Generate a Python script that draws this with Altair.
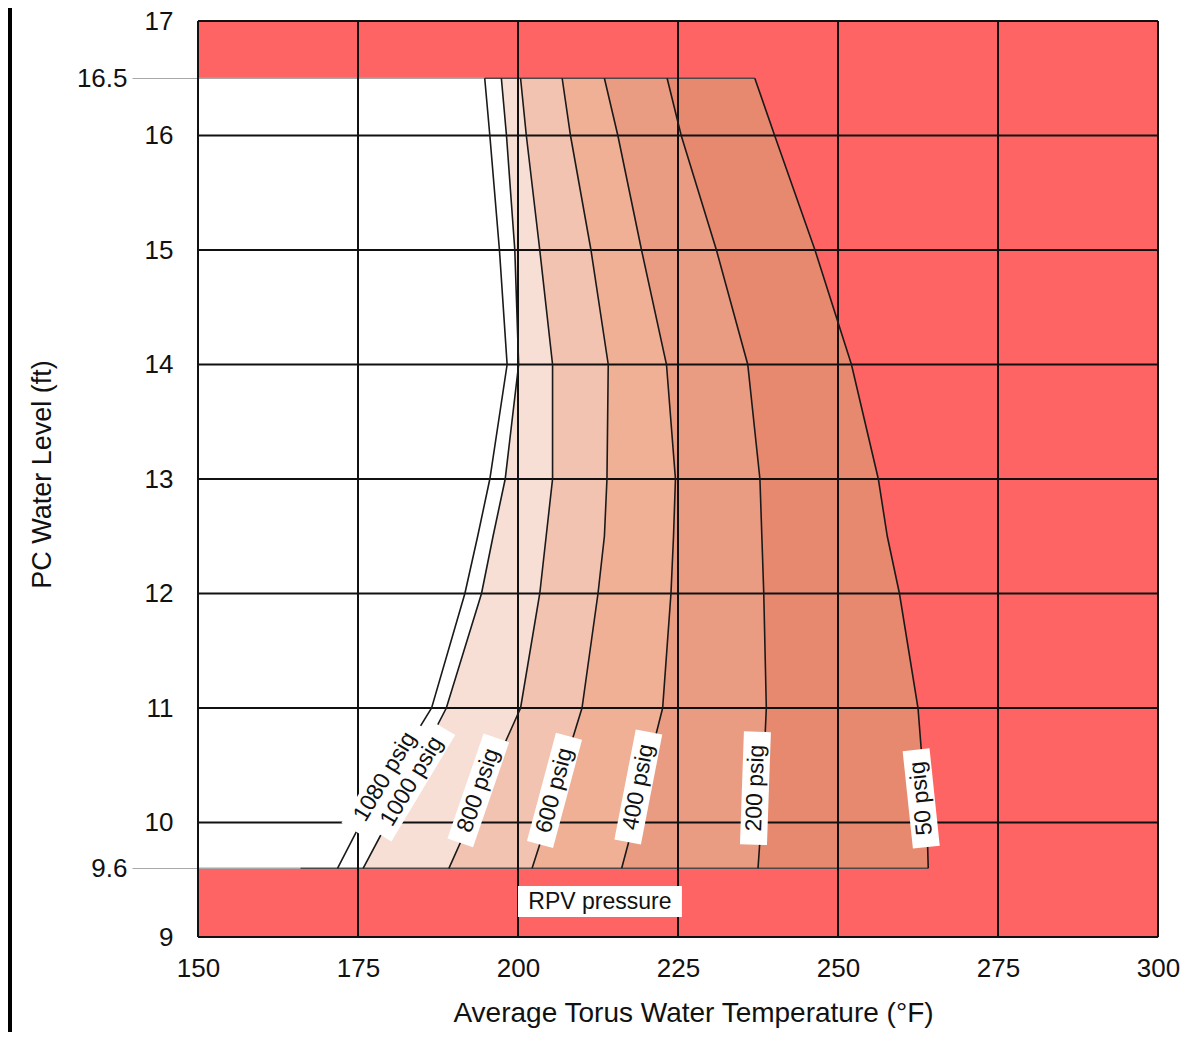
import altair as alt
import pandas as pd

# ---------------- data ----------------
x_ticks = [150, 175, 200, 225, 250, 275, 300]
y_ticks = [9, 10, 11, 12, 13, 14, 15, 16, 17]
y_limits = [9.6, 16.5]

levels = [9.6, 10, 11, 12, 12.5, 13, 14, 15, 16, 16.5]
t_1080 = [171.8, 175.5, 186.5, 191.7, 193.7, 195.6, 198.3, 197.1, 195.6, 194.8]
t_1000 = [175.8, 179.6, 188.8, 194.3, 196.1, 198.0, 200.1, 199.5, 198.2, 197.4]
t_800 = [189.2, 192.4, 200.4, 203.4, 204.4, 205.4, 205.4, 203.4, 201.3, 200.4]
t_600 = [202.2, 204.5, 210.0, 212.5, 213.5, 213.9, 214.1, 211.4, 208.2, 206.9]
t_400 = [216.2, 218.1, 222.6, 223.9, 224.3, 224.6, 223.2, 219.3, 215.6, 213.5]
t_200 = [237.5, 238.0, 238.8, 238.4, 238.1, 237.8, 235.9, 231.0, 225.5, 223.3]
t_50 = [264.1, 263.9, 262.5, 259.6, 257.7, 256.3, 252.1, 246.4, 240.1, 237.0]

curve_names = ["1080 psig", "1000 psig", "800 psig", "600 psig", "400 psig", "200 psig", "50 psig"]
curves = [t_1080, t_1000, t_800, t_600, t_400, t_200, t_50]

label_x = [179.2, 183.4, 193.8, 205.7, 218.8, 237.1, 263.0]
label_y = [10.40, 10.36, 10.28, 10.28, 10.31, 10.30, 10.21]
label_angle = [301, 301, 289, 285, 281, 272, 264]

rpv_text = ["RPV pressure"]
rpv_x = [212.8]
rpv_y = [9.31]

bottom_edge_start = 166.0

# ---------------- style ----------------
FONT = "Liberation Sans"
INK = "#111111"
RED = "#FF6464"
fills = ["#FFFFFF", "#FFFFFF", "#F8DFD5", "#F2C3B0", "#EFB096", "#EA9C82", "#E6896E"]
label_len = [124, 124, 111, 112, 112, 113, 98]
BOX_T = 27

xscale = alt.Scale(domain=[x_ticks[0], x_ticks[-1]], nice=False, zero=False)
yscale = alt.Scale(domain=[y_ticks[0], y_ticks[-1]], nice=False, zero=False)

xaxis = alt.Axis(
    values=x_ticks, orient="bottom", format="d", title="Average Torus Water Temperature (°F)",
    grid=False, domain=False, ticks=False, tickSize=0, labelPadding=18, labelFontSize=26,
    labelFont=FONT, labelColor=INK, labelFlush=False, titleFont=FONT, titleFontSize=28,
    titleFontWeight="normal", titleColor=INK, titleX=495, titleY=76, titleBaseline="middle",
)


def X(field):
    return alt.X(field, scale=xscale, axis=xaxis)


def box_path(length, thick):
    h = round(thick / length, 4)
    return f"M-1,-{h}L1,-{h}L1,{h}L-1,{h}Z"


layers = []

# shaded bands (drawn from widest to narrowest)
for name, xs, fill in reversed(list(zip(curve_names, curves, fills))):
    d = pd.DataFrame({"level": levels, "temp": xs, "base": [x_ticks[0]] * len(levels)})
    layers.append(
        alt.Chart(d).mark_area(orient="horizontal", color=fill, opacity=1).encode(
            y=alt.Y("level:Q", scale=yscale, axis=None),
            x=X("temp:Q"),
            x2="base:Q",
        )
    )

# 9.6 / 16.5 edges with the secondary axis
edge_df = pd.DataFrame({
    "level": [y_limits[0], y_limits[0], y_limits[1], y_limits[1]],
    "x_from": [x_ticks[0], bottom_edge_start, x_ticks[0], t_1080[-1]],
    "x_to": [bottom_edge_start, t_50[0], t_1080[-1], t_50[-1]],
    "kind": ["light", "dark", "light", "dark"],
})
axis2 = alt.Axis(
    values=y_limits, orient="left", format=".1f", title=None, grid=False, domain=False,
    ticks=True, tickSize=66, tickColor="#A8A8A8", tickWidth=1, labelPadding=5,
    labelFontSize=26, labelFont=FONT, labelColor=INK, labelFlush=False,
)
layers.append(
    alt.Chart(edge_df).mark_rule(strokeWidth=1.5).encode(
        y=alt.Y("level:Q", scale=yscale, axis=axis2),
        x=X("x_from:Q"),
        x2="x_to:Q",
        color=alt.Color("kind:N", scale=alt.Scale(domain=["light", "dark"], range=["#A8A8A8", "#4A4A4A"]), legend=None),
    )
)

# grid (horizontal) with main y axis
yaxis = alt.Axis(
    values=y_ticks, orient="left", format="d", title="PC Water Level (ft)", grid=False, domain=False,
    ticks=False, tickSize=0, labelPadding=25, labelFontSize=26, labelFont=FONT, labelColor=INK,
    labelFlush=False, titleFont=FONT, titleFontSize=27, titleFontWeight="normal", titleColor=INK,
    titleX=-156, titleY=453, titleBaseline="middle",
)
layers.append(
    alt.Chart(pd.DataFrame({"level": y_ticks})).mark_rule(color=INK, strokeWidth=2).encode(
        y=alt.Y("level:Q", scale=yscale, axis=yaxis)
    )
)

# grid (vertical)
layers.append(
    alt.Chart(pd.DataFrame({"temp": x_ticks})).mark_rule(color=INK, strokeWidth=2).encode(
        x=X("temp:Q")
    )
)

# pressure curves
rows = []
for name, xs in zip(curve_names, curves):
    for i, (lv, t) in enumerate(zip(levels, xs)):
        rows.append({"curve": name, "level": lv, "temp": t, "idx": i})
line_df = pd.DataFrame(rows)
layers.append(
    alt.Chart(line_df).mark_line(color="#1A1A1A", strokeWidth=1.6).encode(
        x=X("temp:Q"),
        y=alt.Y("level:Q", scale=yscale, axis=None),
        detail="curve:N",
        order="idx:Q",
    )
)

# label boxes + labels
lab_df = pd.DataFrame({
    "text": curve_names + rpv_text,
    "temp": label_x + rpv_x,
    "level": label_y + rpv_y,
    "angle": label_angle + [0],
    "path": [box_path(L, BOX_T) for L in label_len] + [box_path(164, 31)],
    "size": [L * L for L in label_len] + [164 * 164],
})
layers.append(
    alt.Chart(lab_df).mark_point(filled=True, color="white", opacity=1, strokeWidth=0).encode(
        x=X("temp:Q"),
        y=alt.Y("level:Q", scale=yscale, axis=None),
        shape=alt.Shape("path:N", scale=None),
        size=alt.Size("size:Q", scale=None),
        angle=alt.Angle("angle:Q", scale=None),
    )
)
layers.append(
    alt.Chart(lab_df).mark_text(font=FONT, fontSize=23, color=INK, align="center", baseline="middle").encode(
        x=X("temp:Q"),
        y=alt.Y("level:Q", scale=yscale, axis=None),
        text="text:N",
        angle=alt.Angle("angle:Q", scale=None),
    )
)

# scanned page frame on the left
layers.append(
    alt.Chart(pd.DataFrame({"k": [0]})).mark_rule(color="black", strokeWidth=4).encode(
        x=alt.value(-188), y=alt.value(-13), y2=alt.value(1011)
    )
)

chart = (
    alt.layer(*layers)
    .resolve_axis(y="independent")
    .properties(
        width=960,
        height=916,
        autosize=alt.AutoSizeParams(type="none"),
        padding={"left": 190, "top": 13, "right": 24, "bottom": 95},
        background="white",
    )
    .configure_view(fill=RED, stroke="transparent")
)

chart.save("out.html", embed_options={"renderer": "svg", "actions": False})
